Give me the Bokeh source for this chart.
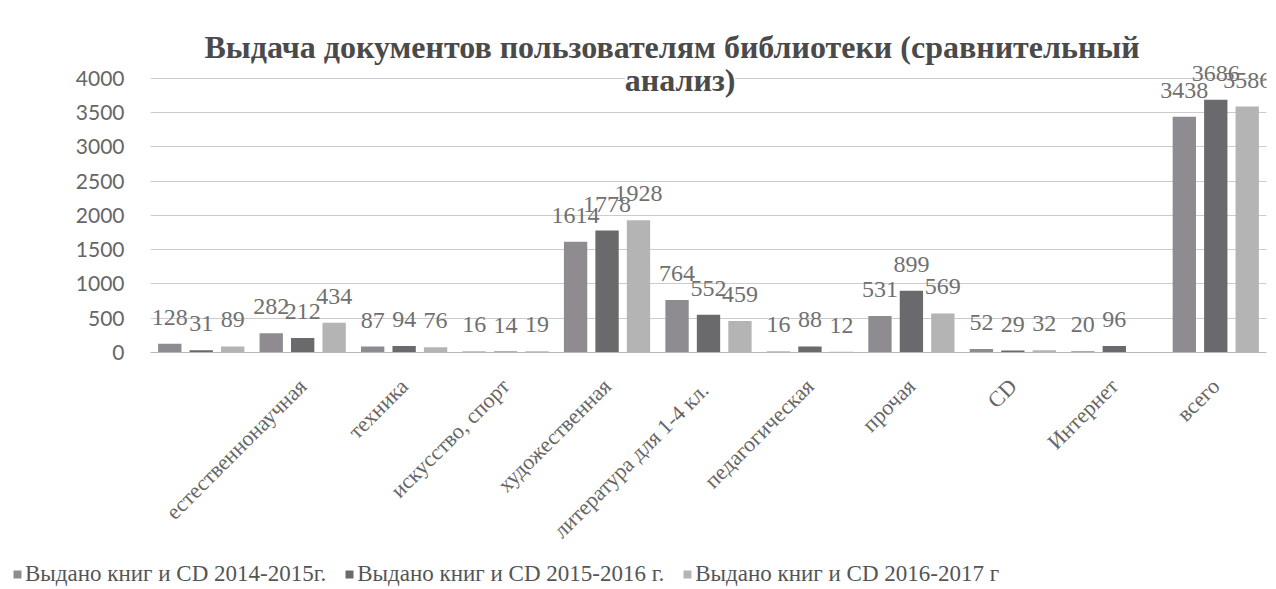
import math
from bokeh.plotting import figure
from bokeh.layouts import column
from bokeh.models import (FactorRange, Range1d, ColumnDataSource, LabelSet, Label,
                          Legend, LegendItem, FixedTicker)
from bokeh.transform import dodge
from bokeh.embed import file_html
from bokeh.resources import INLINE

# ---- data ----
categories = [" ", "естественнонаучная", "техника", "искусство, спорт", "художественная",
              "литература  для 1-4 кл.", "педагогическая", "прочая", "CD", "Интернет", "всего"]
series_names = ["Выдано книг и CD 2014-2015г.", "Выдано книг и CD 2015-2016 г.",
                "Выдано книг и CD 2016-2017 г"]
s2014 = [128, 282, 87, 16, 1614, 764, 16, 531, 52, 20, 3438]
s2015 = [31, 212, 94, 14, 1778, 552, 88, 899, 29, 96, 3686]
s2016 = [89, 434, 76, 19, 1928, 459, 12, 569, 32, None, 3586]
y_ticks = [0, 500, 1000, 1500, 2000, 2500, 3000, 3500, 4000]
title_lines = ["Выдача документов  пользователям библиотеки  (сравнительный", "анализ)"]

colors = ["#8e8c90", "#6a6a6c", "#b4b4b4"]
offsets = [-0.31, 0.0, 0.31]

p = figure(x_range=FactorRange(*categories), y_range=Range1d(0, 4840),
           width=1272, height=554, output_backend="svg", toolbar_location=None,
           min_border_left=150, min_border_right=6, min_border_top=20,
           min_border_bottom=199)

renderers = []
for vals, col, off in zip([s2014, s2015, s2016], colors, offsets):
    tops = [float("nan") if v is None else v for v in vals]
    texts = ["" if v is None else str(v) for v in vals]
    src = ColumnDataSource(dict(cat=categories, top=tops, text=texts,
                                ly=[0 if v is None else v for v in vals]))
    r = p.vbar(x=dodge("cat", off, range=p.x_range), top="top", width=0.23,
               source=src, fill_color=col, line_color=None)
    renderers.append(r)
    lbl = LabelSet(x=dodge("cat", off, range=p.x_range), y="ly", text="text", source=src,
                   text_align="center", text_baseline="alphabetic", y_offset=19,
                   text_font="Liberation Serif", text_font_size="24px",
                   text_color="#707070")
    p.add_layout(lbl)

# title drawn inside the chart area
p.add_layout(Label(x=5.22, y=4448, text=title_lines[0], text_align="center",
                   text_baseline="middle", text_font="Liberation Serif",
                   text_font_style="bold", text_font_size="32px", text_color="#4a4a4a"))
p.add_layout(Label(x=5.22, y=3975, text=title_lines[1], text_align="center",
                   text_baseline="middle", text_font="Liberation Serif",
                   text_font_style="bold", text_font_size="32px", text_color="#4a4a4a",
                   background_fill_color="white"))

# axes
p.yaxis.ticker = FixedTicker(ticks=y_ticks)
p.ygrid.ticker = FixedTicker(ticks=y_ticks)
p.yaxis.axis_line_color = None
p.yaxis.major_tick_line_color = None
p.yaxis.minor_tick_line_color = None
p.yaxis.major_label_standoff = 20
p.yaxis.major_label_text_font = "Lato"
p.yaxis.major_label_text_font_size = "21px"
p.yaxis.major_label_text_color = "#666666"

p.xaxis.major_label_orientation = math.pi / 4
p.xaxis.major_tick_line_color = None
p.xaxis.axis_line_color = "#b8b8b8"
p.xaxis.major_label_text_font = "Liberation Serif"
p.xaxis.major_label_text_font_size = "22px"
p.xaxis.major_label_text_color = "#666666"
p.xaxis.major_label_standoff = 24

p.xgrid.grid_line_color = None
p.ygrid.grid_line_color = "#cccccc"
p.outline_line_color = None

# legend strip below the chart
pl = figure(width=1272, height=34, output_backend="svg", toolbar_location=None,
            x_range=Range1d(0, 1), y_range=Range1d(0, 1), x_axis_type=None, y_axis_type=None,
            min_border=0)
try:
    pl.frame_align = False
    legend_x = 12
except AttributeError:
    legend_x = 12
pl.grid.grid_line_color = None
pl.outline_line_color = None
# legend-only renderers (a single missing value, so nothing is drawn in the strip)
leg_renderers = [pl.vbar(x=[float("nan")], top=[float("nan")], width=0.1,
                         fill_color=c, line_color=None) for c in colors]
legend = Legend(items=[LegendItem(label=n, renderers=[r]) for n, r in zip(series_names, leg_renderers)],
                orientation="horizontal", location=(legend_x, 1),
                glyph_width=10, glyph_height=10, label_text_font="Liberation Serif",
                label_text_font_size="23px", label_text_color="#555555",
                spacing=18, padding=2, label_standoff=3,
                border_line_color=None, background_fill_alpha=0)
pl.add_layout(legend, "center")

layout = column(p, pl, spacing=0)
open("out.html", "w").write(file_html(layout, INLINE))
